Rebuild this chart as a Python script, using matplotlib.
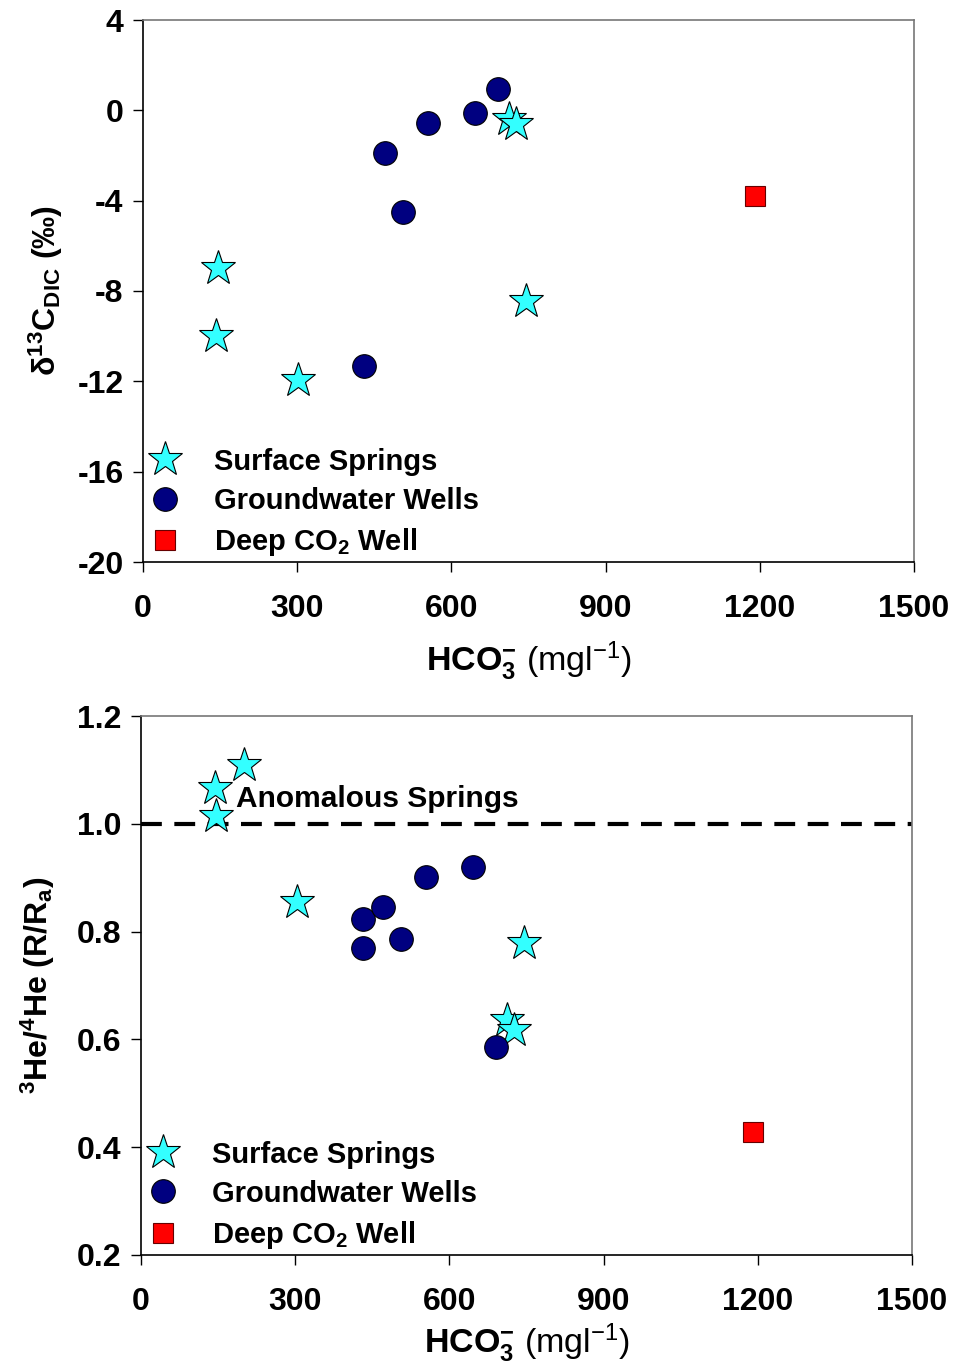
import matplotlib

matplotlib.use("Agg")
import matplotlib.pyplot as plt

plt.rcParams["font.family"] = ["Liberation Sans", "DejaVu Sans"]
plt.rcParams["mathtext.fontset"] = "custom"
plt.rcParams["mathtext.rm"] = "Liberation Sans"
plt.rcParams["mathtext.it"] = "Liberation Sans:italic"
plt.rcParams["mathtext.bf"] = "Liberation Sans:bold"

# HCO3- (mg/l) and delta13C (permil) -- top panel
spring_hco3_c = [146, 142, 302, 713, 726, 745]
spring_d13c = [-7.0, -10.0, -11.95, -0.40, -0.60, -8.45]
well_hco3_c = [471, 505, 555, 430, 646, 690]
well_d13c = [-1.9, -4.5, -0.55, -11.3, -0.12, 0.93]
deep_hco3_c = [1191]
deep_d13c = [-3.78]

# HCO3- and 3He/4He (R/Ra) -- bottom panel
spring_hco3_he = [200, 143, 146, 304, 745, 713, 726]
spring_he = [1.109, 1.067, 1.015, 0.854, 0.779, 0.636, 0.617]
well_hco3_he = [431, 471, 555, 646, 431, 505, 691]
well_he = [0.823, 0.845, 0.902, 0.919, 0.769, 0.786, 0.585]
deep_hco3_he = [1191]
deep_he = [0.428]

x_ticks = [0, 300, 600, 900, 1200, 1500]
c_ticks = [-20, -16, -12, -8, -4, 0, 4]
he_ticks = [0.2, 0.4, 0.6, 0.8, 1.0, 1.2]

CYAN = "#33ffff"
NAVY = "#000080"
RED = "#ff0000"

W, H = 956, 1366
fig = plt.figure(figsize=(W / 100, H / 100), dpi=100)
ax1 = fig.add_axes([143 / W, 1 - 562 / H, 771 / W, 542 / H])
ax2 = fig.add_axes([141 / W, 1 - 1255 / H, 771 / W, 539 / H])


def draw(ax, xs, ys, xw, yw, xd, yd):
    ax.plot(xs, ys, ls="none", marker="*", ms=26, mfc=CYAN, mec="black",
            mew=0.8, label="Surface Springs", zorder=3)
    ax.plot(xw, yw, ls="none", marker="o", ms=17, mfc=NAVY, mec="black",
            mew=0.8, label="Groundwater Wells", zorder=3)
    ax.plot(xd, yd, ls="none", marker="s", ms=15, mfc=RED, mec="#660000",
            mew=0.8, label=r"$\mathbf{Deep\ CO_2\ Well}$", zorder=3)


def style(ax, yticks, fmt, xlabelpad):
    ax.set_xlim(0, 1500)
    ax.set_ylim(yticks[0], yticks[-1])
    ax.set_xticks(x_ticks)
    ax.set_yticks(yticks)
    ax.set_yticklabels([fmt.format(t) for t in yticks])
    ax.tick_params(axis="x", direction="out", length=7, width=1, pad=16,
                   labelsize=23)
    ax.tick_params(axis="y", direction="out", length=7, width=1, pad=7,
                   labelsize=23)
    for lab in ax.get_xticklabels() + ax.get_yticklabels():
        lab.set_fontweight("bold")
    for side in ("top", "right"):
        ax.spines[side].set_color("#777777")
        ax.spines[side].set_linewidth(1.2)
    for side in ("left", "bottom"):
        ax.spines[side].set_linewidth(1.2)
    ax.set_xlabel(r"$\mathbf{HCO_3^{-}}\ \mathrm{(mgl^{-1})}$", fontsize=24.5,
                  labelpad=xlabelpad)
    leg = ax.legend(loc="lower left", bbox_to_anchor=(-0.022, -0.03),
                    frameon=False, fontsize=21, handlelength=1.3,
                    handletextpad=1.0, labelspacing=0.38, borderaxespad=0.3,
                    numpoints=1)
    for t in leg.get_texts():
        t.set_fontweight("bold")


draw(ax1, spring_hco3_c, spring_d13c, well_hco3_c, well_d13c,
     deep_hco3_c, deep_d13c)
style(ax1, c_ticks, "{:d}", 11)
ax1.set_ylabel(r"$\mathbf{δ^{13}C_{DIC}\ (‰)}$", fontsize=23, labelpad=9)

draw(ax2, spring_hco3_he, spring_he, well_hco3_he, well_he,
     deep_hco3_he, deep_he)
ax2.axhline(1.0, color="black", lw=3, ls=(0, (5, 3)), zorder=2)
ax2.text(185, 1.046, "Anomalous Springs", fontsize=21.5, fontweight="bold",
         va="center", ha="left", zorder=4)
style(ax2, he_ticks, "{:.1f}", 3)
ax2.set_ylabel(r"$\mathbf{^3He/^4He\ (R/R_a)}$", fontsize=23, labelpad=14)

fig.savefig("out.png", dpi=100, facecolor="white")
